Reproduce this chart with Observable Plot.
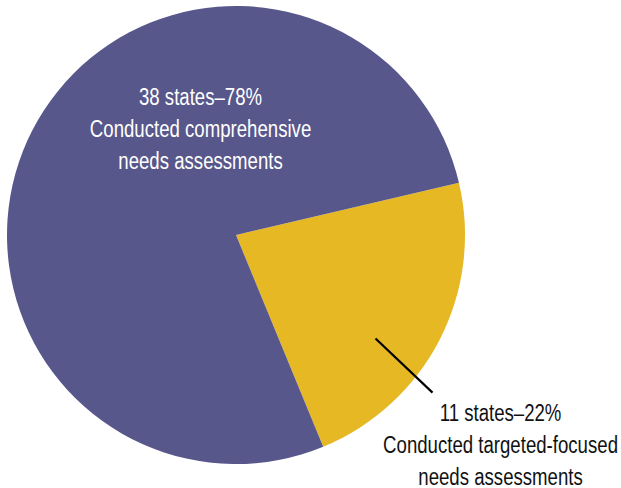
<!DOCTYPE html>
<html>
<head>
<meta charset="utf-8">
<script src="https://cdn.jsdelivr.net/npm/d3@7"></script>
<script src="https://cdn.jsdelivr.net/npm/@observablehq/plot@0.6"></script>
<style>
  html, body { margin: 0; padding: 0; background: #fff; }
</style>
</head>
<body>
<div id="chart"></div>
<script>
// ---- data ----
const categories = ["Targeted-focused", "Comprehensive"];
const stateCounts = [11, 38];
const percents = [22, 78];
const labelLines = [
  "11 states\u201322%\nConducted targeted-focused\nneeds assessments",
  "38 states\u201378%\nConducted comprehensive\nneeds assessments"
];
const colors = ["#e5b824", "#58578b"];

const slices = categories.map((c, i) => ({category: c, states: stateCounts[i], pct: percents[i], label: labelLines[i]}));

// pie layout (angles from 12 o'clock, clockwise)
const startAngle = 76.8 * Math.PI / 180;
const pie = d3.pie().value(d => d.states).sort(null)
  .startAngle(startAngle).endAngle(startAngle + 2 * Math.PI);
const arcs = pie(slices);

// label anchor positions (unit-radius coordinates, y up)
const labelPos = [
  {x: 1.153, y: -0.905},
  {x: -0.157, y: 0.475}
];
const leader = {x1: 0.607, y1: -0.450, x2: 0.856, y2: -0.686};

const R = 229, CX = 236, CY = 235, W = 621, H = 488;

const pieMark = (index, scales, values, dimensions, context) => {
  const g = d3.create("svg:g");
  const cx = scales.x(0), cy = scales.y(0);
  const r = scales.x(1) - scales.x(0);
  const arc = d3.arc().innerRadius(0).outerRadius(r);
  g.attr("transform", `translate(${cx},${cy})`);
  g.selectAll("path").data(arcs).join("path")
    .attr("d", arc)
    .attr("fill", (d, i) => colors[i]);
  return g.node();
};

const chart = Plot.plot({
  width: W,
  height: H,
  margin: 0,
  x: {domain: [-CX / R, (W - CX) / R], axis: null},
  y: {domain: [-(H - CY) / R, CY / R], axis: null},
  style: {background: "#fff"},
  marks: [
    pieMark,
    Plot.link([leader], {x1: "x1", y1: "y1", x2: "x2", y2: "y2", stroke: "#000", strokeWidth: 2.2}),
    Plot.text(slices, {
      x: (d, i) => labelPos[i].x,
      y: (d, i) => labelPos[i].y,
      text: "label",
      fill: (d, i) => i === 0 ? "#111" : "#fff",
      fontSize: 24.5,
      lineHeight: 1.32,
      fontFamily: "'Liberation Sans', Arial, sans-serif",
      textAnchor: "middle"
    })
  ]
});
// emulate a condensed face by squeezing the labels horizontally
chart.querySelectorAll("text").forEach(t => {
  const tr = t.getAttribute("transform") || "";
  t.setAttribute("transform", tr + " scale(0.76,1)");
});
document.getElementById("chart").appendChild(chart);
</script>
</body>
</html>
